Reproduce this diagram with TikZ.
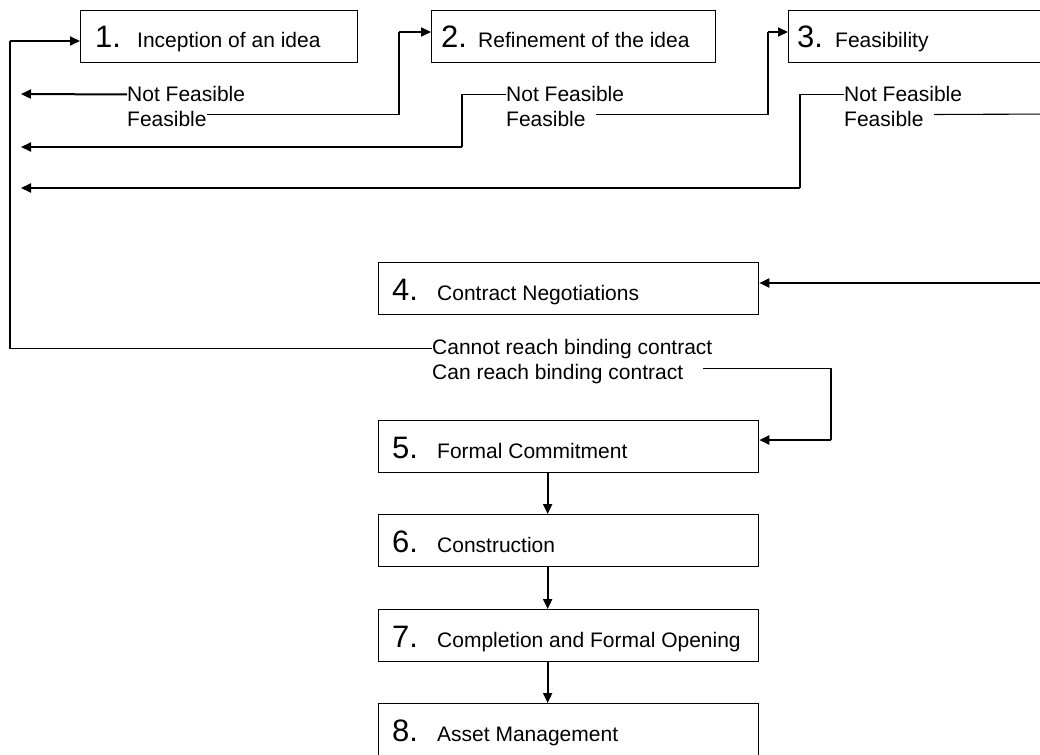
\documentclass[tikz,border=0pt]{standalone}
\usepackage{fontspec}
\setmainfont{Liberation Sans}
\usetikzlibrary{arrows.meta}
\begin{document}
\begin{tikzpicture}[x=1pt,y=-1pt, font=\fontsize{21}{25}\selectfont,
  box/.style={draw, line width=1.3pt, anchor=north west, inner sep=0pt, minimum height=52pt},
  lab/.style={anchor=base west, inner sep=0pt},
  num/.style={anchor=base west, inner sep=0pt, font=\fontsize{31}{31}\selectfont},
  thinl/.style={line width=1.1pt},
  arr/.style={line width=2pt, -{Triangle[length=10pt,width=9pt]}},
]
\clip (0,0) rectangle (1040,754);
\fill[white] (0,0) rectangle (1040,754);
% boxes
\node[box, minimum width=277pt] (b1) at (80,10) {};
\node[box, minimum width=284pt] (b2) at (431,10) {};
\node[box, minimum width=300pt] (b3) at (788,10) {};
\node[box, minimum width=380pt] (b4) at (378,262) {};
\node[box, minimum width=380pt] (b5) at (378,420) {};
\node[box, minimum width=380pt] (b6) at (378,514) {};
\node[box, minimum width=380pt] (b7) at (378,609) {};
\node[box, minimum width=380pt, minimum height=60pt] (b8) at (378,703) {};
% box labels
\node[num] (n1) at (95,48) {1.};  \node[lab] (t1) at (137,48) {Inception of an idea};
\node[num] (n2) at (441,48) {2.}; \node[lab] (t2) at (478,48) {Refinement of the idea};
\node[num] (n3) at (797,48) {3.}; \node[lab] (t3) at (835,48) {Feasibility};
\node[num] (n4) at (392,300) {4.}; \node[lab] (t4) at (437,300) {Contract Negotiations};
\node[num] (n5) at (392,458) {5.}; \node[lab] (t5) at (437,458) {Formal Commitment};
\node[num] (n6) at (392,552) {6.}; \node[lab] (t6) at (437,552) {Construction};
\node[num] (n7) at (392,647) {7.}; \node[lab] (t7) at (437,647) {Completion and Formal Opening};
\node[num] (n8) at (392,741) {8.}; \node[lab] (t8) at (437,741) {Asset Management};
% decision labels
\node[lab] (nf1) at (127,102) {Not Feasible}; \node[lab] (f1) at (127,127) {Feasible};
\node[lab] (nf2) at (506,102) {Not Feasible}; \node[lab] (f2) at (506,127) {Feasible};
\node[lab] (nf3) at (844,102) {Not Feasible}; \node[lab] (f3) at (844,127) {Feasible};
\node[lab] (cn) at (432,354) {Cannot reach binding contract};
\node[lab] (cr) at (432,379) {Can reach binding contract};
% free ends and bends
\coordinate (L1) at (21,94);
\coordinate (L2) at (21,147);
\coordinate (L3) at (21,188);
\coordinate (c1) at (399,32);
\coordinate (c2) at (462,147);
\coordinate (c3) at (768,32);
\coordinate (c4) at (800,188);
\coordinate (c5a) at (1060,114);
\coordinate (c5) at (1060,283);
\coordinate (c6) at (cn.west -| 10,0);
\coordinate (c7) at (10,41);
\coordinate (c8) at (831,368);
\coordinate (c9) at (831,440);
% row 1
\draw[arr] (nf1.west) -- (L1);
\draw[thinl] ([yshift=5pt]f1.east) -| (c1);
\draw[arr] (c1) -- (b2.west |- c1);
% row 2
\draw[thinl] (nf2.west) -| (c2);
\draw[arr] (c2) -- (L2);
\draw[thinl] ([xshift=10pt,yshift=5pt]f2.east) -| (c3);
\draw[arr] (c3) -- (b3.west |- c3);
% row 3
\draw[thinl] (nf3.west) -| (c4);
\draw[arr] (c4) -- (L3);
\draw[thinl] ([xshift=10pt,yshift=5pt]f3.east) -- (c5a) -- (c5);
\draw[arr] (c5) -- (b4.east |- c5);
% contract
\draw[thinl] (cn.west) -- (c6) -- (c7);
\draw[arr] (c7) -- (b1.west |- c7);
\draw[thinl] ([xshift=20pt,yshift=5pt]cr.east) -| (c9);
\draw[arr] (c9) -- (b5.east |- c9);
% chain
\draw[arr] ([xshift=-21pt]b5.south) -- ([xshift=-21pt]b6.north);
\draw[arr] ([xshift=-21pt]b6.south) -- ([xshift=-21pt]b7.north);
\draw[arr] ([xshift=-21pt]b7.south) -- ([xshift=-21pt]b8.north);
\end{tikzpicture}
\end{document}
